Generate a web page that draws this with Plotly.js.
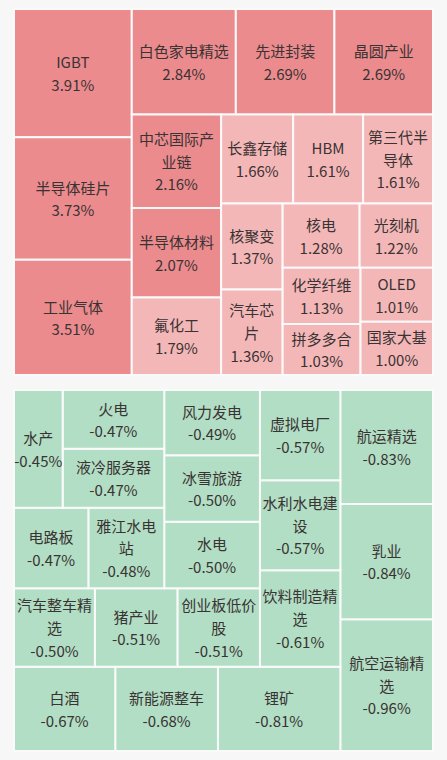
<!DOCTYPE html>
<html>
<head>
<meta charset="utf-8">
<script src="https://cdn.plot.ly/plotly-3.0.1.min.js"></script>
<style>
html,body{margin:0;padding:0;background:#f7f7f7;}
#chart{width:447px;height:760px;}
</style>
</head>
<body>
<div id="chart"></div>
<script>
// Gainers (top treemap)
const upNames = ["IGBT","半导体硅片","工业气体","白色家电精选","先进封装","晶圆产业","中芯国际产业链","半导体材料","氟化工","长鑫存储","HBM","第三代半导体","核聚变","汽车芯片","核电","光刻机","化学纤维","拼多多合","OLED","国家大基"];
const upChanges = [3.91,3.73,3.51,2.84,2.69,2.69,2.16,2.07,1.79,1.66,1.61,1.61,1.37,1.36,1.28,1.22,1.13,1.03,1.01,1.00];
const upWrapped = ["IGBT","半导体硅片","工业气体","白色家电精选","先进封装","晶圆产业","中芯国际产<br>业链","半导体材料","氟化工","长鑫存储","HBM","第三代半<br>导体","核聚变","汽车芯<br>片","核电","光刻机","化学纤维","拼多多合","OLED","国家大基"];

// Losers (bottom treemap)
const downNames = ["航空运输精选","乳业","航运精选","锂矿","新能源整车","白酒","饮料制造精选","水利水电建设","虚拟电厂","创业板低价股","猪产业","汽车整车精选","水电","冰雪旅游","风力发电","雅江水电站","电路板","液冷服务器","火电","水产"];
const downChanges = [-0.96,-0.84,-0.83,-0.81,-0.68,-0.67,-0.61,-0.57,-0.57,-0.51,-0.51,-0.50,-0.50,-0.50,-0.49,-0.48,-0.47,-0.47,-0.47,-0.45];
const downWrapped = ["航空运输精<br>选","乳业","航运精选","锂矿","新能源整车","白酒","饮料制造精<br>选","水利水电建<br>设","虚拟电厂","创业板低价<br>股","猪产业","汽车整车精<br>选","水电","冰雪旅游","风力发电","雅江水电<br>站","电路板","液冷服务器","火电","水产"];

const W = 447, H = 760;
const x0 = 14/W, x1 = 433/W;

function fmt(v){ return v.toFixed(2) + "%"; }
// base font sets the line spacing; glyphs drawn at 15px
function cellText(name, v){
  const s = t => '<span style="font-size:15px">' + t + '</span>';
  return name.split("<br>").map(s).join("<br>") + "<br>" + s(fmt(v));
}

const fontSpec = {family: "Noto Sans CJK SC, Noto Sans, sans-serif", size: 17.5, color: "#3a3333"};

const gainTrace = {
  type: "treemap",
  labels: upNames,
  parents: upNames.map(() => ""),
  values: upChanges,
  customdata: upWrapped.map((n,i) => cellText(n, upChanges[i])),
  texttemplate: "%{customdata}",
  textposition: "middle center",
  textfont: fontSpec,
  marker: {
    colors: upChanges.map(v => v >= 2 ? "#ec8b8e" : "#f4b7b8"),
    line: {width: 2, color: "#fafafa"},
    pad: {t: 0, l: 0, r: 0, b: 0}
  },
  tiling: {packing: "squarify", squarifyratio: 1, pad: 0},
  pathbar: {visible: false},
  sort: true,
  hoverinfo: "none",
  domain: {x: [x0, x1], y: [1 - 375/H, 1 - 9/H]}
};

const lossTrace = {
  type: "treemap",
  labels: downNames,
  parents: downNames.map(() => ""),
  values: downChanges.map(v => Math.abs(v)),
  customdata: downWrapped.map((n,i) => cellText(n, downChanges[i])),
  texttemplate: "%{customdata}",
  textposition: "middle center",
  textfont: fontSpec,
  marker: {
    colors: downChanges.map(() => "#b1dec4"),
    line: {width: 2, color: "#fafafa"},
    pad: {t: 0, l: 0, r: 0, b: 0}
  },
  tiling: {packing: "squarify", squarifyratio: 1, pad: 0, flip: "x+y"},
  pathbar: {visible: false},
  sort: true,
  hoverinfo: "none",
  domain: {x: [x0, x1], y: [1 - 751/H, 1 - 390/H]}
};

const layout = {
  width: W, height: H,
  margin: {l: 0, r: 0, t: 0, b: 0},
  paper_bgcolor: "#f7f7f7",
  showlegend: false,
  uniformtext: {minsize: 17.5, mode: "show"}
};

Plotly.newPlot("chart", [gainTrace, lossTrace], layout, {displayModeBar: false, staticPlot: true});
</script>
</body>
</html>
